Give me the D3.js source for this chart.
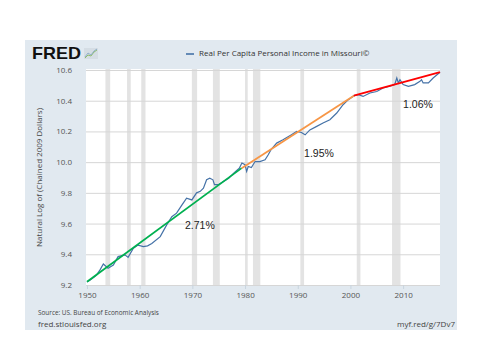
<!DOCTYPE html>
<html><head><meta charset="utf-8">
<script src="https://cdn.jsdelivr.net/npm/d3@7"></script>
<style>body{margin:0;background:#fff}svg{display:block}text{font-family:"Open Sans","DejaVu Sans",sans-serif}</style>
</head><body><svg id="c" width="480" height="360"></svg>
<script>
const years = [1950.0,1950.6,1951.3,1951.8,1952.5,1953.1,1954.0,1955.0,1955.9,1957.2,1957.8,1958.8,1959.7,1960.7,1961.5,1962.3,1963.9,1965.1,1966.1,1967.0,1968.0,1968.9,1969.9,1970.8,1971.5,1972.1,1972.7,1973.3,1973.9,1974.2,1974.9,1975.9,1976.9,1977.9,1978.9,1979.4,1980.0,1980.3,1980.6,1981.2,1981.9,1982.8,1983.8,1984.4,1984.9,1986.0,1987.2,1988.8,1989.8,1990.7,1991.4,1992.3,1993.6,1994.8,1996.1,1997.4,1998.6,1999.6,2000.7,2001.5,2002.4,2003.7,2005.0,2006.2,2007.5,2008.4,2008.8,2009.1,2009.4,2010.0,2011.0,2012.2,2013.2,2013.5,2013.8,2014.8,2015.7,2017.0];
const values = [9.22,9.233,9.25,9.265,9.30,9.337,9.309,9.33,9.385,9.396,9.38,9.44,9.46,9.45,9.455,9.47,9.515,9.59,9.645,9.668,9.72,9.765,9.754,9.80,9.81,9.83,9.885,9.895,9.885,9.853,9.853,9.874,9.895,9.93,9.96,9.994,9.983,9.94,9.972,9.965,10.004,10.004,10.015,10.048,10.08,10.124,10.146,10.178,10.2,10.193,10.178,10.21,10.233,10.255,10.276,10.32,10.374,10.407,10.433,10.44,10.428,10.45,10.46,10.483,10.494,10.505,10.548,10.516,10.537,10.505,10.494,10.505,10.526,10.537,10.516,10.516,10.548,10.585];
const recessionStart = [1953.5,1957.6,1960.3,1969.9,1973.9,1980.0,1981.5,1990.5,2001.2,2007.9];
const recessionEnd   = [1954.4,1958.3,1961.1,1970.9,1975.2,1980.5,1982.9,1991.2,2001.9,2009.5];
const trendYears  = [[1950.0,1979.35],[1979.35,2000.65],[2000.65,2017.0]];
const trendValues = [[9.2215,9.961],[9.961,10.433],[10.433,10.586]];
const trendLabels = ["2.71%","1.95%","1.06%"];
const trendLabelPos = [[1968.6,9.585],[1991.2,10.054],[2010.0,10.368]];
const trendColors = ["#00b050","#f79646","#ff0000"];
const yTicks = [9.2,9.4,9.6,9.8,10.0,10.2,10.4,10.6];
const xTicks = [1950,1960,1970,1980,1990,2000,2010];
const title = "Real Per Capita Personal Income in Missouri©";
const yTitle = "Natural Log of (Chained 2009 Dollars)";

const svg = d3.select("#c");
const L=86, R=440, T=70, B=285;
const x = d3.scaleLinear().domain([1950,2017]).range([87,440]);
const y = d3.scaleLinear().domain([9.2,10.6]).range([B,T]);

// panel
svg.append("rect").attr("x",25).attr("y",40).attr("width",432).attr("height",290).attr("fill","#e1e9f0");
svg.append("rect").attr("x",L).attr("y",T-1).attr("width",R-L).attr("height",B-T+1).attr("fill","#fff");

// recessions
svg.append("g").selectAll("rect").data(recessionStart).join("rect")
  .attr("x",(d)=>x(d)).attr("y",T-1).attr("width",(d,i)=>x(recessionEnd[i])-x(d)).attr("height",B-T+1)
  .attr("fill","#e3e3e3");

// grid
const yAxis = d3.axisLeft(y).tickValues(yTicks).tickFormat(d3.format(".1f")).tickSize(-(R-L)).tickPadding(14);
const gy = svg.append("g").attr("transform",`translate(${L},0)`).call(yAxis);
gy.select(".domain").remove();
gy.selectAll(".tick line").attr("stroke","#d6d6d6").attr("stroke-width",1);
gy.selectAll(".tick text").attr("fill","#555").style("font-size","8px");

const xAxis = d3.axisBottom(x).tickValues(xTicks).tickFormat(d3.format("d")).tickSize(4).tickPadding(3);
const gx = svg.append("g").attr("transform",`translate(0,${B})`).call(xAxis);
gx.select(".domain").remove();
gx.selectAll(".tick line").attr("stroke","#c8d4de");
gx.selectAll(".tick text").attr("fill","#555").style("font-size","8px");

// series
const pts = years.map((yr,i)=>[yr,values[i]]);
svg.append("path").datum(pts).attr("fill","none").attr("stroke","#4572a7").attr("stroke-width",1.2)
  .attr("d",d3.line().x(d=>x(d[0])).y(d=>y(d[1])));

// trends
trendYears.forEach((ty,i)=>{
  svg.append("line").attr("x1",x(ty[0])).attr("y1",y(trendValues[i][0]))
    .attr("x2",x(ty[1])).attr("y2",y(trendValues[i][1]))
    .attr("stroke",trendColors[i]).attr("stroke-width",1.8);
  svg.append("text").attr("x",x(trendLabelPos[i][0])).attr("y",y(trendLabelPos[i][1]))
    .attr("dominant-baseline","middle").style("font-family","'Liberation Sans',Arial,sans-serif")
    .style("font-size","10.5px").attr("fill","#222").text(trendLabels[i]);
});

// header
svg.append("text").attr("x",32).attr("y",59).style("font-family","'Liberation Sans',Arial,sans-serif")
  .style("font-weight","900").style("font-size","17px").attr("textLength",49).attr("lengthAdjust","spacingAndGlyphs")
  .attr("fill","#111").text("FRED");
const ic = svg.append("g").attr("transform","translate(84,48)");
ic.append("rect").attr("width",14).attr("height",11).attr("fill","#d5dde4");
ic.append("polyline").attr("points","1,10 4,7 7,8 10,4 13,2").attr("fill","none").attr("stroke","#8fbf6a").attr("stroke-width",1);
ic.append("polyline").attr("points","1,9 4,5 7,7 10,3 13,1").attr("fill","none").attr("stroke","#7fa3c4").attr("stroke-width",0.8);

svg.append("line").attr("x1",186).attr("x2",194).attr("y1",54).attr("y2",54).attr("stroke","#4572a7").attr("stroke-width",1.6);
svg.append("text").attr("x",199).attr("y",54).attr("dominant-baseline","middle").style("font-size","8px")
  .attr("fill","#333").text(title);

svg.append("text").attr("transform",`translate(40,${(T+B)/2}) rotate(-90)`).attr("text-anchor","middle")
  .attr("dominant-baseline","middle").style("font-size","8px").attr("fill","#444").text(yTitle);

// footer
svg.append("text").attr("x",38).attr("y",315).style("font-size","6.4px").attr("fill","#444").text("Source: US. Bureau of Economic Analysis");
svg.append("text").attr("x",38).attr("y",327).style("font-size","8px").attr("fill","#444").text("fred.stlouisfed.org");
svg.append("text").attr("x",455).attr("y",327).attr("text-anchor","end").style("font-size","8px").attr("fill","#444").text("myf.red/g/7Dv7");
</script></body></html>
